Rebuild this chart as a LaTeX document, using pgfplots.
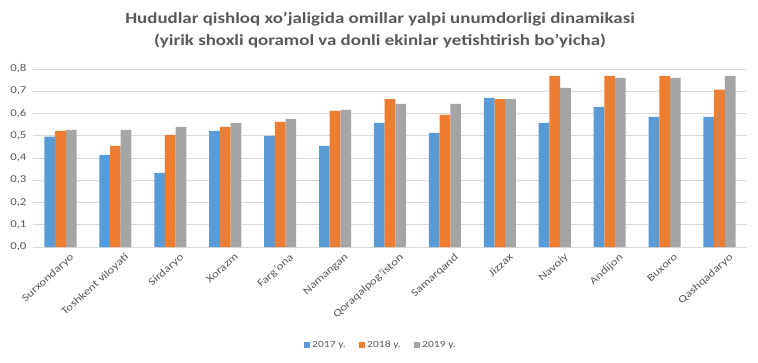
\documentclass[border=0pt]{standalone}
\usepackage{pgfplots}
\pgfplotsset{compat=1.18}
\usepackage{fontspec}
\setmainfont{Carlito}[FakeStretch=1.22]
\definecolor{cblue}{HTML}{5B9BD5}
\definecolor{corange}{HTML}{ED7D31}
\definecolor{cgray}{HTML}{A5A5A5}
\definecolor{ctext}{HTML}{595959}
\definecolor{cgrid}{HTML}{D9D9D9}
\begin{document}
\begin{tikzpicture}[x=1pt,y=1pt]
\path[use as bounding box, fill=white] (0,0) rectangle (758,362);
\node[font=\bfseries\fontsize{15.5}{22}\selectfont, text=ctext, align=center] at (380,332)
  {Hududlar qishloq xo’jaligida omillar yalpi unumdorligi dinamikasi\\(yirik shoxli qoramol va donli ekinlar yetishtirish bo’yicha)};
\begin{axis}[
  at={(33pt,115pt)}, anchor=south west,
  scale only axis, width=714pt, height=178pt,
  ybar=0pt, bar width=10.7pt,
  xmin=-0.5, xmax=12.5, ymin=0, ymax=0.8,
  xtick=data,
  xticklabels={Surxondaryo,Toshkent viloyati,Sirdaryo,Xorazm,Farg’ona,Namangan,Qoraqalpog’iston,Samarqand,Jizzax,Navoiy,Andijon,Buxoro,Qashqadaryo},
  ytick={0,0.1,...,0.8},
  /pgf/number format/use comma,
  /pgf/number format/fixed,
  /pgf/number format/fixed zerofill,
  /pgf/number format/precision=1,
  /pgf/number format/assume math mode=true,
  ticklabel style={font=\fontsize{10.5}{12}\selectfont, text=ctext},
  xticklabel style={rotate=42, anchor=north east, inner sep=0pt, xshift=3pt, yshift=-10pt},
  yticklabel style={xshift=-3pt},
  major tick length=0pt,
  ymajorgrids, grid style={cgrid, line width=0.8pt},
  axis x line*=bottom, axis y line*=left,
  x axis line style={draw=cgrid, line width=0.8pt},
  y axis line style={draw=none},
  legend style={at={(0.487,-0.55)}, anchor=center, draw=none, fill=none,
    legend columns=3, font=\fontsize{9.5}{11}\selectfont, text=ctext,
    /tikz/every even column/.append style={column sep=11pt},
    /tikz/every odd column/.append style={column sep=0pt}},
  legend image code/.code={\fill[#1] (0pt,-3.2pt) rectangle (6.5pt,3.2pt);},
]
\addplot[fill=cblue, draw=none] coordinates {(0,0.496) (1,0.414) (2,0.333) (3,0.522) (4,0.499) (5,0.455) (6,0.558) (7,0.513) (8,0.670) (9,0.558) (10,0.630) (11,0.585) (12,0.585)};
\addplot[fill=corange, draw=none] coordinates {(0,0.522) (1,0.455) (2,0.504) (3,0.540) (4,0.562) (5,0.612) (6,0.665) (7,0.594) (8,0.665) (9,0.769) (10,0.769) (11,0.769) (12,0.707)};
\addplot[fill=cgray, draw=none] coordinates {(0,0.526) (1,0.526) (2,0.540) (3,0.558) (4,0.576) (5,0.616) (6,0.643) (7,0.643) (8,0.665) (9,0.715) (10,0.760) (11,0.760) (12,0.769)};
\legend{2017 y.,2018 y.,2019 y.}
\end{axis}
\end{tikzpicture}
\end{document}
